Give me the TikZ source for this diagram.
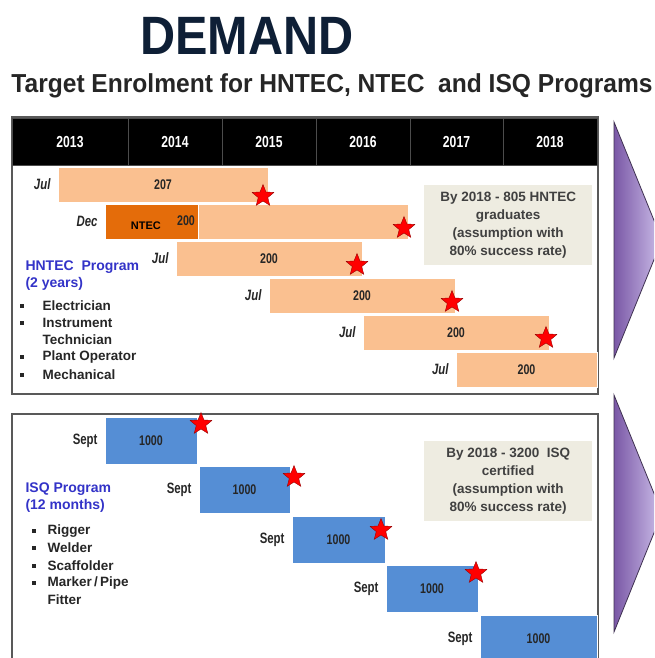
\documentclass[tikz,border=0pt]{standalone}
\usepackage{fontspec}
\setmainfont{Liberation Sans}
\newfontfamily\narrowfont[FakeStretch=0.76]{Liberation Sans}
\newfontfamily\titlefont[FakeStretch=0.9]{Liberation Sans}
\newfontfamily\subfont[FakeStretch=0.945]{Liberation Sans}
\usetikzlibrary{shapes.geometric}

\definecolor{orangeL}{HTML}{FAC090}
\definecolor{orangeD}{HTML}{E46C0A}
\definecolor{isqblue}{HTML}{558ED5}
\definecolor{notebeige}{HTML}{EEECE1}
\definecolor{progblue}{HTML}{3333C8}
\definecolor{navytitle}{HTML}{0E1F36}
\definecolor{chevL}{HTML}{7A58A6}
\definecolor{chevR}{HTML}{CDBFEA}
\definecolor{chevD}{HTML}{3F3151}
\definecolor{textgray}{HTML}{262626}

\tikzset{
  panel/.style={draw=black!65, line width=1.4pt},
  yearcell/.style={fill=black, draw=black!70, line width=0.8pt},
  yeartext/.style={text=white, font=\narrowfont\bfseries\fontsize{16}{16}\selectfont},
  hbar/.style={fill=orangeL, draw=white, line width=0.8pt},
  ibar/.style={fill=isqblue, draw=white, line width=0.8pt},
  barnum/.style={text=textgray, font=\narrowfont\bfseries\fontsize{14}{14}\selectfont},
  month/.style={anchor=east, text=textgray, font=\narrowfont\bfseries\itshape\fontsize{15}{15}\selectfont},
  sept/.style={anchor=east, text=textgray, font=\narrowfont\bfseries\fontsize{15}{15}\selectfont},
  redstar/.style={star, star points=5, star point ratio=2.3, minimum size=23pt,
    inner sep=0pt, fill=red, draw=red!60!black, line width=0.4pt},
  notebox/.style={fill=notebeige, anchor=north west, minimum width=168pt, minimum height=80pt,
    align=center, text=black!75, font=\bfseries\fontsize{13.5}{18}\selectfont},
  progtext/.style={anchor=north west, align=left, text=progblue, font=\bfseries\fontsize{14}{17}\selectfont},
  itemtext/.style={anchor=west, text=textgray, font=\bfseries\fontsize{13.5}{14}\selectfont},
  chevron/.style={left color=chevL, right color=chevR, draw=chevD, line width=0.8pt}
}

\begin{document}
\begin{tikzpicture}[x=1pt, y=-1pt]
	\clip (0,0) rectangle (654,658);
	\fill[white] (0,0) rectangle (654,658);

	\node[text=navytitle, font=\titlefont\bfseries\fontsize{54}{54}\selectfont] (title) at (247,36) {DEMAND};
	\node[text=black!85, font=\subfont\bfseries\fontsize{26}{28}\selectfont] (subtitle) at (332,86)
		{Target Enrolment for HNTEC, NTEC\ \ and ISQ Programs};

	\draw[panel] (12,117) rectangle (598,394);
	\foreach \yr/\xa/\xb in {2013/12/128, 2014/128/222, 2015/222/316, 2016/316/410, 2017/410/503, 2018/503/597} {
		\draw[yearcell] (\xa,118) rectangle (\xb,165);
		\node[yeartext, anchor=base] (y\yr) at ({(\xa+\xb)/2},147.5) {\yr};
	}

	\foreach \n/\xa/\xb/\ya/\v in {1/58/268/167/207, 3/176/362/241/200, 4/269/455/278/200, 5/363/549/315/200, 6/456/597/352/200} {
		\draw[hbar] (\xa,\ya) rectangle (\xb,\ya+35) node[midway, barnum] (hb\n) {\v};
		\node[month] (hm\n) at (\xa-4,\ya+17.5) {Jul};
	}
	\draw[hbar] (198,204) rectangle (408,239);
	\draw[fill=orangeD, draw=white, line width=0.8pt] (105,204) rectangle (198,239)
		node[pos=0.44, yshift=-6pt, text=black, font=\bfseries\fontsize{11}{11}\selectfont] (ntec) {NTEC};
	\node[barnum] (hb2) at (186,221) {200};
	\node[month] (hm2) at (101,221.5) {Dec};

	\foreach \sx/\sy [count=\i] in {263/196, 404/228, 357/265, 452/302, 546/338} {
		\node[redstar] (hs\i) at (\sx,\sy) {};
	}

	\node[notebox] (hnote) at (424,185) {By 2018 - 805 HNTEC\\graduates\\(assumption with\\80\% success rate)};

	\node[progtext] (hprog) at (22,257) {HNTEC\ \ Program\\(2 years)};
	\foreach \yy/\t/\b in {306/Electrician/1, 323/Instrument/1, 340/Technician/0, 357/Plant Operator/1, 375/Mechanical/1} {
		\ifnum\b=1 \fill[textgray] (20,\yy-2) rectangle (24,\yy+2); \fi
		\node[itemtext] at (39,\yy) {\t};
	}

	\draw[panel] (12,414) rectangle (598,680);
	\foreach \n/\xa/\xb/\ya in {1/105/197/417, 2/199/290/466.5, 3/292/385/516, 4/386/478/565.5, 5/480/597/615} {
		\draw[ibar] (\xa,\ya) rectangle (\xb,\ya+47) node[midway, barnum] (ib\n) {1000};
		\node[sept] (im\n) at (\xa-4,\ya+23.5) {Sept};
	}
	\foreach \sx/\sy [count=\i] in {201/424, 294/477, 381/530, 476/573} {
		\node[redstar] (is\i) at (\sx,\sy) {};
	}

	\node[notebox] (inote) at (424,441) {By 2018 - 3200\ \ ISQ\\certified\\(assumption with\\80\% success rate)};

	\node[progtext] (iprog) at (22,479) {ISQ Program\\(12 months)};
	\foreach \yy/\t/\b in {531/Rigger/1, 548/Welder/1, 566/Scaffolder/1, 583/Marker\,\slash\,Pipe/1, 600/Fitter/0} {
		\ifnum\b=1 \fill[textgray] (32,\yy-2) rectangle (36,\yy+2); \fi
		\node[itemtext] at (44,\yy) {\t};
	}

	\shade[chevron] (614,122) -- (662,240) -- (614,358) -- cycle;
	\shade[chevron] (614,395) -- (662,513) -- (614,632) -- cycle;
\end{tikzpicture}
\end{document}
